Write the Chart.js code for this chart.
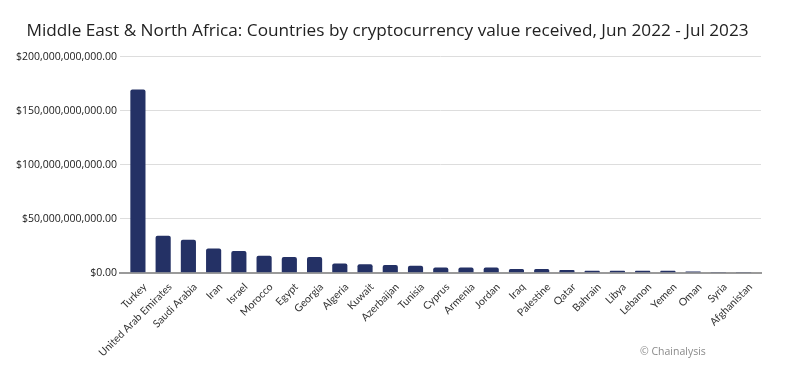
<!DOCTYPE html>
<html>
<head>
<meta charset="utf-8">
<script src="https://cdn.jsdelivr.net/npm/chart.js@4.4.0/dist/chart.umd.min.js"></script>
<style>
  html, body { margin: 0; padding: 0; background: #ffffff; }
  #wrap { position: relative; width: 791px; height: 382px; }
  #credit { position: absolute; left: 640px; top: 344px; font: 10.5px "Open Sans", sans-serif; color: #8a8a8a; }
</style>
</head>
<body>
<div id="wrap">
  <canvas id="c" width="791" height="382"></canvas>
  <div id="credit">© Chainalysis</div>
</div>
<script>
const countries = ["Turkey", "United Arab Emirates", "Saudi Arabia", "Iran", "Israel", "Morocco", "Egypt", "Georgia", "Algeria", "Kuwait", "Azerbaijan", "Tunisia", "Cyprus", "Armenia", "Jordan", "Iraq", "Palestine", "Qatar", "Bahrain", "Libya", "Lebanon", "Yemen", "Oman", "Syria", "Afghanistan"];
const valueReceived = [169.5e9, 34.2e9, 30.4e9, 22.4e9, 20.1e9, 15.6e9, 14.6e9, 14.5e9, 8.5e9, 7.7e9, 7.0e9, 6.3e9, 4.8e9, 4.8e9, 4.7e9, 3.4e9, 3.3e9, 2.5e9, 1.8e9, 1.8e9, 1.7e9, 1.7e9, 1.0e9, 0.08e9, 0.05e9];
const yTicks = [0, 50e9, 100e9, 150e9, 200e9];
const titleText = "Middle East & North Africa: Countries by cryptocurrency value received, Jun 2022 - Jul 2023";

function fmtMoney(v) {
  return "$" + Number(v).toLocaleString("en-US", { minimumFractionDigits: 2, maximumFractionDigits: 2 });
}

new Chart(document.getElementById("c"), {
  type: "bar",
  data: {
    labels: countries,
    datasets: [{
      data: valueReceived,
      backgroundColor: "#243165",
      borderRadius: { topLeft: 2, topRight: 2 },
      borderSkipped: "bottom",
      categoryPercentage: 0.8,
      barPercentage: 0.75
    }]
  },
  options: {
    responsive: false,
    animation: false,
    layout: { padding: { left: 14, right: 30, top: 21, bottom: 15 } },
    plugins: {
      legend: { display: false },
      tooltip: { enabled: false },
      title: {
        display: true,
        text: titleText,
        color: "#222222",
        font: { family: "Open Sans", size: 17.2, weight: "normal" },
        padding: { top: 0, bottom: 15 }
      }
    },
    scales: {
      x: {
        // small extra margin on both ends of the category axis (as in the reference)
        afterBuildTicks: (axis) => { axis._startValue = -0.71; axis._valueRange = countries.length + 0.4; },
        grid: { display: false, drawTicks: false },
        border: { display: true, color: "#9a9a9a", width: 2 },
        ticks: {
          color: "#333333",
          font: { family: "Lato", size: 10.5 },
          maxRotation: 45,
          minRotation: 45,
          autoSkip: false,
          padding: 8,
          labelOffset: 7
        }
      },
      y: {
        min: 0,
        max: 200e9,
        afterBuildTicks: (axis) => { axis.ticks = yTicks.map(v => ({ value: v })); },
        afterFit: (axis) => { axis.width = 106; },
        grid: { color: "#dddddd", lineWidth: 1, drawTicks: false },
        border: { display: false },
        ticks: {
          color: "#1a1a1a",
          font: { family: "Open Sans", size: 10.5 },
          padding: 3,
          callback: (v) => fmtMoney(v)
        }
      }
    }
  }
});
</script>
</body>
</html>
